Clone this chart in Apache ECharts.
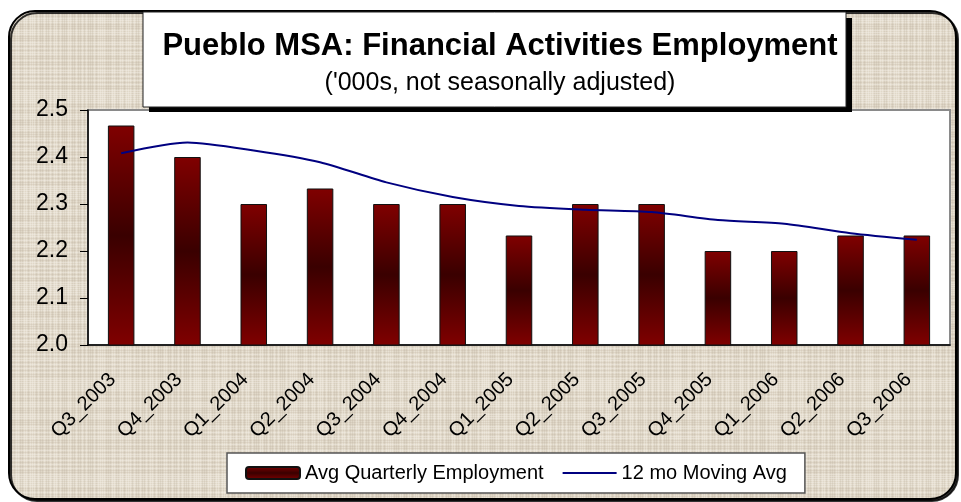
<!DOCTYPE html>
<html>
<head>
<meta charset="utf-8">
<script src="https://cdn.jsdelivr.net/npm/echarts@6/dist/echarts.min.js"></script>
<style>
html, body { margin: 0; padding: 0; background: #fff; }
#pueblo { width: 961px; height: 502px; }
</style>
</head>
<body>
<div id="pueblo"></div>
<script>
// quarters on the x axis
var quarters = ['Q3_2003', 'Q4_2003', 'Q1_2004', 'Q2_2004', 'Q3_2004', 'Q4_2004', 'Q1_2005',
    'Q2_2005', 'Q3_2005', 'Q4_2005', 'Q1_2006', 'Q2_2006', 'Q3_2006']
// avg quarterly employment ('000s)
var quarterly = [2.467, 2.4, 2.3, 2.333, 2.3, 2.3, 2.233, 2.3, 2.3, 2.2, 2.2, 2.233, 2.233]
// 12 month moving average
var movingAvg = [2.408, 2.431, 2.414, 2.389, 2.346, 2.315, 2.296, 2.288, 2.283, 2.266, 2.258, 2.238, 2.224]
var yMin = 2.0
var yMax = 2.5
var yStep = 0.1

// linen-like texture for the frame
function makeTexture() {
    var c = document.createElement('canvas')
    c.width = 96
    c.height = 96
    var ctx = c.getContext('2d')
    ctx.fillStyle = '#e0d8c8'
    ctx.fillRect(0, 0, 96, 96)
    var seed = 7
    function next() {
        seed = (seed * 1103515245 + 12345) % 2147483648
        return seed / 2147483648
    }
    for (var i = 0; i < 96; i += 2) {
        var v = next()
        ctx.fillStyle = v > 0.5 ? 'rgba(245,241,232,0.4)' : 'rgba(185,175,155,0.22)'
        ctx.fillRect(0, i, 96, 1)
        var w = next()
        ctx.fillStyle = w > 0.5 ? 'rgba(247,243,235,0.35)' : 'rgba(180,170,150,0.2)'
        ctx.fillRect(i, 0, 1, 96)
    }
    return c
}

var chart = echarts.init(document.getElementById('pueblo'))
var font = '"Liberation Sans", Arial, sans-serif'

var option = {
    animation: false,
    backgroundColor: '#fff',
    textStyle: { fontFamily: font },
    title: {
        text: 'Pueblo MSA: Financial Activities Employment',
        subtext: "('000s, not seasonally adjusted)",
        left: 495,
        top: 26,
        textAlign: 'center',
        itemGap: 9,
        textStyle: { fontSize: 31, fontWeight: 'bold', color: '#000', fontFamily: font },
        subtextStyle: { fontSize: 25, color: '#000', fontFamily: font }
    },
    graphic: [
        {
            type: 'rect',
            z: -10,
            shape: { x: 9, y: 11, width: 947, height: 488, r: 26 },
            style: {
                fill: { image: makeTexture(), repeat: 'repeat' },
                stroke: '#000',
                lineWidth: 2,
                shadowColor: 'rgba(0,0,0,0.8)',
                shadowOffsetX: 2,
                shadowOffsetY: 2
            }
        },
        {
            type: 'rect',
            z: 5,
            shape: { x: 149, y: 18, width: 703, height: 94 },
            style: { fill: '#000' }
        },
        {
            type: 'rect',
            z: 5,
            shape: { x: 143, y: 12, width: 703, height: 95 },
            style: { fill: '#fff', stroke: '#222', lineWidth: 1 }
        }
    ],
    legend: {
        left: 227,
        top: 453,
        itemWidth: 54,
        itemHeight: 12,
        itemGap: 18,
        padding: [10, 18],
        backgroundColor: '#fff',
        borderColor: '#555',
        borderWidth: 1.5,
        borderRadius: 0,
        textStyle: { fontSize: 20, color: '#000', fontFamily: font },
        data: [
            { name: 'Avg Quarterly Employment' },
            { name: '12 mo Moving Avg', itemStyle: { opacity: 0 } }
        ]
    },
    grid: {
        left: 88,
        right: 11,
        top: 110,
        bottom: 157,
        show: true,
        backgroundColor: '#fff',
        borderColor: '#8a8a8a',
        borderWidth: 2
    },
    xAxis: {
        type: 'category',
        data: quarters,
        boundaryGap: true,
        axisLine: { lineStyle: { color: '#000', width: 1.5 } },
        axisTick: { length: 6, lineStyle: { color: '#000' } },
        axisLabel: {
            rotate: 45,
            margin: 23,
            padding: [0, 12, 0, 0],
            fontSize: 20,
            color: '#000',
            fontFamily: font
        }
    },
    yAxis: {
        type: 'value',
        min: yMin,
        max: yMax,
        interval: yStep,
        axisLine: { show: true, lineStyle: { color: '#000', width: 1.5 } },
        axisTick: { show: true, length: 8, lineStyle: { color: '#000' } },
        splitLine: { show: false },
        axisLabel: {
            margin: 20,
            fontSize: 23,
            color: '#000',
            fontFamily: font,
            formatter: function (v) { return v.toFixed(1) }
        }
    },
    series: [
        {
            name: 'Avg Quarterly Employment',
            type: 'bar',
            data: quarterly,
            barWidth: '40%',
            itemStyle: {
                color: new echarts.graphic.LinearGradient(0, 0, 0, 1, [
                    { offset: 0, color: '#800000' },
                    { offset: 0.5, color: '#3a0000' },
                    { offset: 1, color: '#800000' }
                ]),
                borderColor: '#111',
                borderWidth: 1
            }
        },
        {
            name: '12 mo Moving Avg',
            type: 'line',
            data: movingAvg,
            symbol: 'none',
            smooth: 0.25,
            lineStyle: { color: '#000080', width: 2 },
            itemStyle: { color: '#000080' }
        }
    ]
}

chart.setOption(option)
</script>
</body>
</html>
